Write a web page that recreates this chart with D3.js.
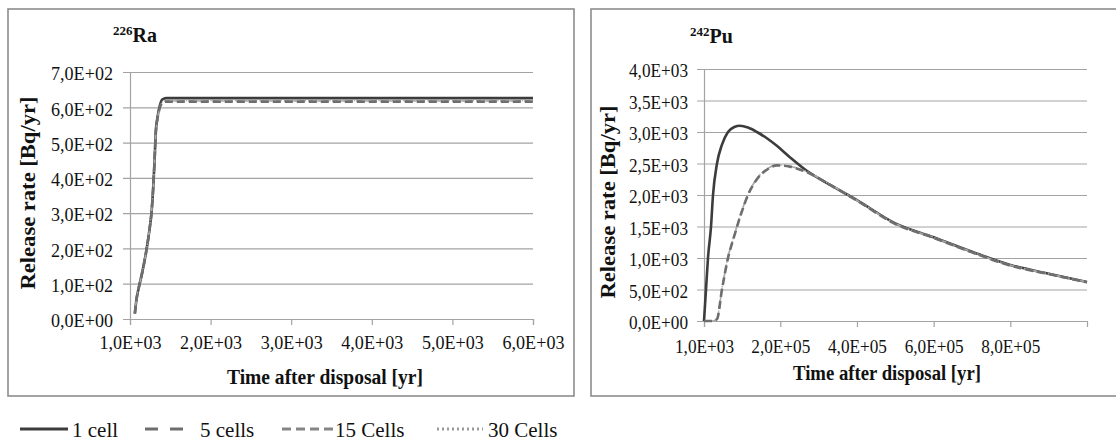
<!DOCTYPE html>
<html>
<head>
<meta charset="utf-8">
<script src="https://cdn.jsdelivr.net/npm/d3@7"></script>
<style>
  body { margin: 0; background: #fff; }
  svg { display: block; }
</style>
</head>
<body>
<svg id="chart" width="1116" height="443"></svg>
<script>
// ---- data ----
const seriesNames = ["1 cell", "5 cells", "15 Cells", "30 Cells"];

// 226Ra panel
const raTimes   = [1060, 1080, 1110, 1150, 1200, 1240, 1270, 1290, 1305, 1320, 1340, 1370, 1400, 1450, 2000, 3000, 4000, 5000, 6000];
const ra1cell   = [15, 55, 90, 130, 190, 250, 310, 380, 450, 530, 570, 605, 622, 626, 626, 626, 626, 626, 626];
const ra5cells  = [15, 55, 90, 130, 190, 250, 310, 380, 450, 528, 566, 598, 612, 616, 616, 616, 616, 616, 616];
const ra15cells = [15, 55, 90, 130, 190, 250, 310, 380, 450, 528, 567, 600, 614, 618, 618, 618, 618, 618, 618];
const ra30cells = [15, 55, 90, 130, 190, 250, 310, 380, 450, 529, 568, 601, 615, 619, 619, 619, 619, 619, 619];
const raXTicks  = [1000, 2000, 3000, 4000, 5000, 6000];
const raYTicks  = [0, 100, 200, 300, 400, 500, 600, 700];

// 242Pu panel
const puTimes   = [1000, 6200, 11400, 19300, 24500, 34900, 47900, 63600, 80000, 95000, 115800, 139000, 165000, 191000, 225000, 270000, 330000, 400000, 500000, 600000, 700000, 800000, 900000, 1000000];
const pu1cell   = [0, 500, 1000, 1500, 2000, 2500, 2800, 3000, 3080, 3100, 3070, 3000, 2900, 2780, 2600, 2380, 2160, 1920, 1550, 1330, 1100, 890, 750, 620];
const pu5cells  = [0, 0, 0, 0, 0, 30, 500, 1000, 1350, 1650, 2000, 2250, 2400, 2470, 2450, 2360, 2160, 1910, 1540, 1320, 1090, 880, 745, 615];
const pu15cells = [0, 0, 0, 0, 0, 35, 510, 1010, 1360, 1660, 2010, 2260, 2410, 2475, 2455, 2365, 2165, 1915, 1545, 1325, 1095, 885, 748, 618];
const pu30cells = [0, 0, 0, 0, 0, 40, 520, 1020, 1370, 1670, 2015, 2265, 2415, 2478, 2458, 2368, 2168, 1918, 1548, 1328, 1098, 888, 750, 620];
const puXTicks  = [1000, 200000, 400000, 600000, 800000];
const puYTicks  = [0, 500, 1000, 1500, 2000, 2500, 3000, 3500, 4000];

// ---- styles ----
const lineStyles = [
  {color: "#3c3c3c", width: 2.6, dash: null},
  {color: "#6e6e6e", width: 2.6, dash: "8,4"},
  {color: "#a8a8a8", width: 1.6, dash: "5,3"},
  {color: "#b4b4b4", width: 1.4, dash: "1.5,2"}
];
const legendStyles = [
  {color: "#3c3c3c", dash: null},
  {color: "#6e6e6e", dash: "13,12"},
  {color: "#858585", dash: "9,5"},
  {color: "#9a9a9a", dash: "2,3"}
];
const drawOrder = [0, 3, 2, 1];
const gridColor = "#a3a3a3";
const frameColor = "#8c8c8c";
const serif = "'Liberation Serif'";

const svg = d3.select("#chart");

// scientific label like "7,0E+02"
function sciFormat(v) {
  if (v === 0) return "0,0E+00";
  const e = Math.floor(Math.log10(v) + 1e-9);
  const m = v / Math.pow(10, e);
  return m.toFixed(1).replace(".", ",") + "E+" + String(e).padStart(2, "0");
}

function drawPanel(cfg) {
  const g = svg.append("g");

  // panel frame
  g.append("rect")
    .attr("x", cfg.frame[0]).attr("y", cfg.frame[1])
    .attr("width", cfg.frame[2]).attr("height", cfg.frame[3])
    .attr("fill", "#fff")
    .attr("stroke", frameColor)
    .attr("stroke-width", 1.6);

  const x = d3.scaleLinear().domain(cfg.xDomain).range(cfg.xRange);
  const y = d3.scaleLinear().domain(cfg.yDomain).range(cfg.yRange);

  // horizontal gridlines (with outside ticks)
  const yAxis = g.append("g")
    .attr("transform", `translate(${cfg.xRange[0]},0)`)
    .call(d3.axisLeft(y).tickValues(cfg.yTicks).tickSize(7).tickFormat(sciFormat));
  yAxis.select(".domain").attr("stroke", gridColor).attr("stroke-width", 1.2);
  yAxis.selectAll(".tick line")
    .attr("x2", cfg.xRange[1] - cfg.xRange[0])
    .attr("x1", -7)
    .attr("stroke", gridColor)
    .attr("stroke-width", 1.2);
  yAxis.selectAll(".tick text")
    .attr("x", -cfg.yLabelGap)
    .attr("dy", "0.4em")
    .attr("fill", "#111")
    .style("font-family", serif)
    .style("font-size", "19.5px")
    .attr("textLength", cfg.tickLen)
    .attr("lengthAdjust", "spacingAndGlyphs");

  // x axis
  const xAxis = g.append("g")
    .attr("transform", `translate(0,${cfg.yRange[0]})`)
    .call(d3.axisBottom(x).tickValues(cfg.xTicks).tickSize(6).tickFormat(sciFormat));
  xAxis.select(".domain").attr("stroke", gridColor).attr("stroke-width", 1.2);
  xAxis.selectAll(".tick line").attr("stroke", gridColor).attr("stroke-width", 1.2);
  xAxis.selectAll(".tick text")
    .attr("y", cfg.xLabelOffset)
    .attr("dy", 0)
    .attr("fill", "#111")
    .style("font-family", serif)
    .style("font-size", "19.5px")
    .attr("textLength", cfg.tickLen)
    .attr("lengthAdjust", "spacingAndGlyphs");

  // series lines
  const line = d3.line()
    .x(d => x(d[0]))
    .y(d => y(d[1]))
    .curve(d3.curveMonotoneX);

  drawOrder.forEach(i => {
    const vals = cfg.series[i];
    const pts = cfg.times.map((t, k) => [t, vals[k]]);
    const st = lineStyles[i];
    g.append("path")
      .datum(pts)
      .attr("fill", "none")
      .attr("stroke", st.color)
      .attr("stroke-width", st.width)
      .attr("stroke-dasharray", st.dash)
      .attr("d", line);
  });

  // panel title with superscript mass number
  const title = g.append("text")
    .attr("x", cfg.titlePos[0])
    .attr("y", cfg.titlePos[1])
    .style("font-family", serif)
    .attr("font-weight", "bold")
    .attr("fill", "#111");
  title.append("tspan").attr("font-size", 13).attr("dy", -7).text(cfg.titleSup);
  title.append("tspan").attr("font-size", 20).attr("dy", 7).text(cfg.titleMain);

  // y axis title
  g.append("text")
    .attr("transform", `translate(${cfg.yTitlePos[0]},${cfg.yTitlePos[1]}) rotate(-90)`)
    .attr("text-anchor", "middle")
    .style("font-family", serif)
    .attr("font-weight", "bold")
    .attr("font-size", 21)
    .attr("fill", "#111")
    .attr("textLength", 193)
    .attr("lengthAdjust", "spacingAndGlyphs")
    .text("Release rate [Bq/yr]");

  // x axis title
  g.append("text")
    .attr("x", cfg.xTitlePos[0])
    .attr("y", cfg.xTitlePos[1])
    .attr("text-anchor", "middle")
    .style("font-family", serif)
    .attr("font-weight", "bold")
    .attr("font-size", 20)
    .attr("fill", "#111")
    .attr("textLength", cfg.xTitleLen)
    .attr("lengthAdjust", "spacingAndGlyphs")
    .text("Time after disposal [yr]");
}

drawPanel({
  frame: [8, 9, 566, 387],
  xDomain: [1000, 6000], xRange: [130, 533],
  yDomain: [0, 700], yRange: [319, 72],
  xTicks: raXTicks, yTicks: raYTicks,
  times: raTimes, series: [ra1cell, ra5cells, ra15cells, ra30cells],
  yLabelGap: 17, xLabelOffset: 30, tickLen: 62,
  titleSup: "226", titleMain: "Ra", titlePos: [113, 42],
  yTitlePos: [35, 193], xTitlePos: [325, 384], xTitleLen: 196
});

drawPanel({
  frame: [591, 9, 530, 387],
  xDomain: [1000, 1000000], xRange: [704, 1087],
  yDomain: [0, 4000], yRange: [321, 69],
  xTicks: puXTicks, yTicks: puYTicks,
  times: puTimes, series: [pu1cell, pu5cells, pu15cells, pu30cells],
  yLabelGap: 16, xLabelOffset: 32, tickLen: 59,
  titleSup: "242", titleMain: "Pu", titlePos: [690, 43],
  yTitlePos: [615, 202], xTitlePos: [887, 380], xTitleLen: 188
});

// legend below the panels
const legendX = [20, 145, 282, 437];
const legendLen = [48, 38, 53, 46];
const legendTextX = [72, 200, 335, 488];
const legend = svg.append("g");
seriesNames.forEach((name, i) => {
  const st = legendStyles[i];
  legend.append("line")
    .attr("x1", legendX[i]).attr("x2", legendX[i] + legendLen[i])
    .attr("y1", 429).attr("y2", 429)
    .attr("stroke", st.color)
    .attr("stroke-width", 3)
    .attr("stroke-dasharray", st.dash);
  legend.append("text")
    .attr("x", legendTextX[i])
    .attr("y", 437)
    .style("font-family", serif)
    .attr("font-size", 21)
    .attr("fill", "#111")
    .text(name);
});
</script>
</body>
</html>
